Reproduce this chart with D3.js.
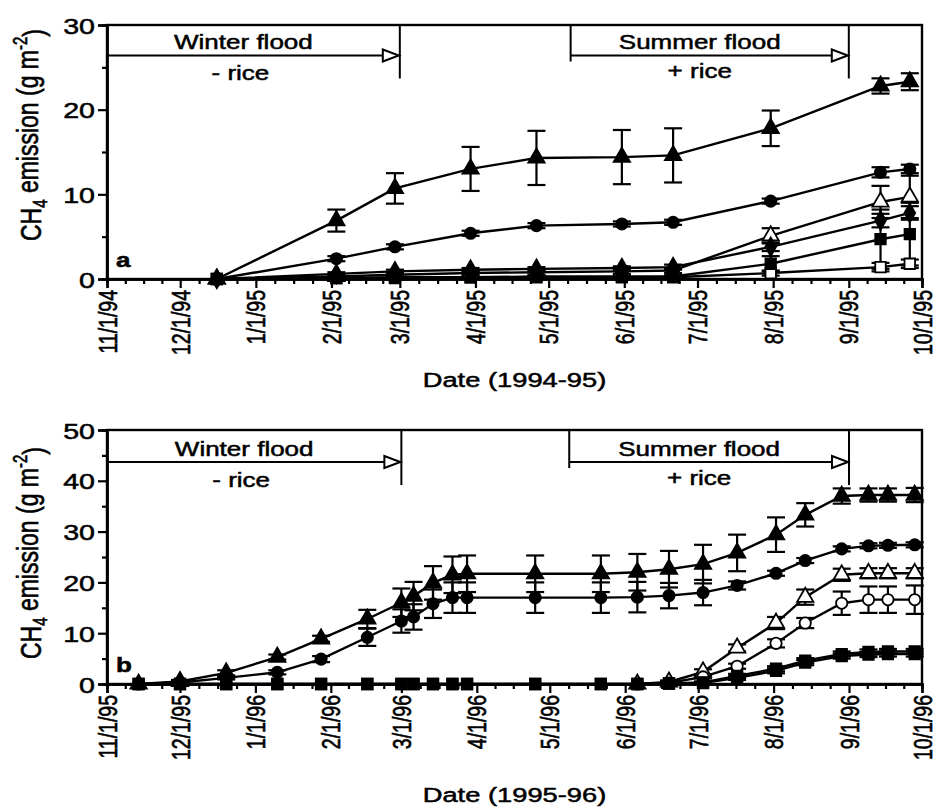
<!DOCTYPE html>
<html>
<head>
<meta charset="utf-8">
<script src="https://cdn.jsdelivr.net/npm/d3@7"></script>
<style>
  body { margin: 0; background: #fff; }
  svg { display: block; }
  text { font-family: "Liberation Sans", Arial, sans-serif; fill: #000; stroke: #000; stroke-width: 0.5px; }
</style>
</head>
<body>
<div id="wrapper"></div>
<script>
//* Data, panel a (1994-95)
const monthTicksA = ["11/1/94", "12/1/94", "1/1/95", "2/1/95", "3/1/95", "4/1/95",
  "5/1/95", "6/1/95", "7/1/95", "8/1/95", "9/1/95", "10/1/95"];
const datesA = ["12/16/94", "2/3/95", "2/27/95", "3/30/95", "4/26/95", "5/31/95",
  "6/21/95", "7/31/95", "9/14/95", "9/26/95"];
const triFilledA = [0, 6.9, 10.7, 13.0, 14.3, 14.4, 14.6, 17.8, 22.8, 23.3];
const triFilledErrA = [0, 1.3, 1.8, 2.6, 3.2, 3.2, 3.2, 2.1, 0.9, 1.0];
const circFilledA = [0, 2.4, 3.8, 5.4, 6.3, 6.5, 6.7, 9.2, 12.6, 13.0];
const circFilledErrA = [0, 0.3, 0.3, 0.3, 0.3, 0.3, 0.3, 0.3, 0.6, 0.5];
const triOpenA = [0, 0.3, 0.5, 0.7, 0.8, 0.9, 1.0, 5.1, 9.1, 9.7];
const triOpenErrA = [0, 0.2, 0.2, 0.2, 0.3, 0.3, 0.3, 0.9, 1.9, 2.5];
const diamFilledA = [0, 0.6, 0.9, 1.1, 1.2, 1.3, 1.4, 3.8, 6.9, 7.8];
const diamFilledErrA = [0, 0.2, 0.2, 0.2, 0.2, 0.2, 0.3, 0.5, 0.8, 0.8];
const sqFilledA = [0, 0.1, 0.2, 0.2, 0.3, 0.3, 0.3, 1.8, 4.7, 5.3];
const sqFilledErrA = [0, 0.1, 0.1, 0.1, 0.1, 0.1, 0.1, 0.9, 3.5, 3.7];
const sqOpenA = [0, 0.1, 0.1, 0.2, 0.2, 0.2, 0.2, 0.7, 1.4, 1.8];
const sqOpenErrA = [0, 0.1, 0.1, 0.1, 0.1, 0.1, 0.1, 0.3, 0.5, 0.5];

//* Data, panel b (1995-96); null = no point shown on that date
const monthTicksB = ["11/1/95", "12/1/95", "1/1/96", "2/1/96", "3/1/96", "4/1/96",
  "5/1/96", "6/1/96", "7/1/96", "8/1/96", "9/1/96", "10/1/96"];
const datesB = ["11/14/95", "12/1/95", "12/20/95", "1/10/96", "1/28/96", "2/16/96",
  "3/1/96", "3/6/96", "3/14/96", "3/22/96", "3/28/96", "4/25/96", "5/22/96",
  "6/6/96", "6/19/96", "7/3/96", "7/17/96", "8/2/96", "8/14/96", "8/29/96",
  "9/9/96", "9/17/96", "9/28/96"];
const triFilledB = [0, 0.5, 2.2, 5.3, 8.9, 12.8, 16.0, 17.3, 19.9, 21.5, 21.7, 21.7,
  21.7, 22.0, 22.6, 23.6, 25.8, 29.4, 33.3, 37.0, 37.2, 37.2, 37.2];
const triFilledErrB = [0, 0.3, 0.5, 0.5, 0.6, 1.8, 2.8, 2.8, 3.3, 3.6, 3.6, 3.6, 3.6,
  3.6, 3.6, 3.8, 3.6, 3.4, 2.3, 1.5, 1.3, 1.3, 1.4];
const circFilledB = [0, 0.3, 1.2, 2.3, 4.9, 9.2, 12.4, 13.2, 15.8, 17.0, 17.0, 17.0,
  17.0, 17.1, 17.4, 18.0, 19.4, 21.8, 24.3, 26.6, 27.2, 27.3, 27.4];
const circFilledErrB = [0, 0.2, 0.3, 0.4, 0.6, 1.7, 2.3, 2.5, 2.8, 3.0, 3.0, 3.0, 3.0,
  3.0, 2.5, 2.5, 0.8, 0.5, 0.5, 0.5, 0.5, 0.5, 0.5];
const triOpenB = [null, null, null, null, null, null, null, null, null, null, null, null,
  null, 0, 0.4, 2.4, 7.1, 12.0, 17.1, 21.5, 21.8, 21.8, 21.8];
const triOpenErrB = [0, 0, 0, 0, 0, 0, 0, 0, 0, 0, 0, 0, 0, 0, 0.3, 0.5, 0.7, 1.2, 1.5,
  1.2, 1.0, 1.0, 1.0];
const circOpenB = [null, null, null, null, null, null, null, null, null, null, null, null,
  null, 0, 0.2, 1.4, 3.5, 8.0, 12.0, 15.9, 16.6, 16.6, 16.6];
const circOpenErrB = [0, 0, 0, 0, 0, 0, 0, 0, 0, 0, 0, 0, 0, 0, 0.2, 0.3, 0.5, 0.8, 1.0,
  2.3, 2.6, 2.6, 2.8];
const sqFilledB = [0, 0, 0, 0, 0, 0, 0, 0, 0, 0, 0, 0, 0, 0, 0.1, 0.3, 1.6, 3.0, 4.6,
  5.9, 6.3, 6.4, 6.4];
const sqFilledErrB = [0, 0, 0, 0, 0, 0, 0, 0, 0, 0, 0, 0, 0, 0, 0.1, 0.2, 0.4, 0.5, 0.5,
  0.5, 0.5, 0.5, 0.5];
const sqOpenB = [0, 0, 0, 0, 0, 0, 0, 0, 0, 0, 0, 0, 0, 0, 0.1, 0.2, 1.2, 2.6, 4.2,
  5.5, 5.8, 5.9, 5.9];
const sqOpenErrB = [0, 0, 0, 0, 0, 0, 0, 0, 0, 0, 0, 0, 0, 0, 0.1, 0.2, 0.4, 0.5, 0.5,
  0.5, 0.5, 0.5, 0.5];

const parseDate = d3.timeParse("%m/%d/%y");
const stretch = 1.3; // the source figure is stretched horizontally

//* Canvas
const wrapper = d3.select("#wrapper")
  .append("svg")
  .attr("width", 937)
  .attr("height", 809);

function drawPanel(cfg) {
  const { top, bottom, left, right } = cfg.box;

  const xScale = d3.scaleTime()
    .domain([parseDate(cfg.months[0]), parseDate(cfg.months[cfg.months.length - 1])])
    .range([left, right]);
  const yScale = d3.scaleLinear()
    .domain([0, cfg.yMax])
    .range([bottom, top]);

  const bounds = wrapper.append("g");

  // frame
  bounds.append("rect")
    .attr("x", left).attr("y", top)
    .attr("width", right - left).attr("height", bottom - top)
    .attr("fill", "none").attr("stroke", "#000").attr("stroke-width", 2.4);

  // flood annotations
  const arrowY = yScale(cfg.arrowValue);
  const ann = bounds.append("g").attr("stroke", "#000").attr("stroke-width", 2).attr("fill", "none");
  const drawArrow = (x0, x1, leftTick) => {
    const xa = xScale(parseDate(x0));
    const xb = xScale(parseDate(x1));
    if (leftTick) ann.append("line").attr("x1", xa).attr("x2", xa).attr("y1", top).attr("y2", arrowY + 6);
    ann.append("line").attr("x1", xa).attr("x2", xb - 16).attr("y1", arrowY).attr("y2", arrowY);
    ann.append("path")
      .attr("d", `M${xb - 17},${arrowY - 6}L${xb - 1},${arrowY}L${xb - 17},${arrowY + 6}Z`)
      .attr("fill", "#fff");
    ann.append("line").attr("x1", xb).attr("x2", xb).attr("y1", top).attr("y2", arrowY + 23);
    return (xa + xb) / 2 - 10;
  };
  const winterMid = drawArrow(cfg.winter[0], cfg.winter[1], false);
  const summerMid = drawArrow(cfg.summer[0], cfg.summer[1], true);
  const label = (x, y, str) => bounds.append("text")
    .attr("transform", `translate(${x},${y}) scale(${stretch},1)`)
    .attr("text-anchor", "middle")
    .style("font-size", "20px")
    .text(str);
  label(winterMid, arrowY - 6, "Winter flood");
  label(winterMid - 3, arrowY + 25, "- rice");
  label(summerMid, arrowY - 6, "Summer flood");
  label(summerMid, arrowY + 23, "+ rice");

  // series
  const dates = cfg.dates.map(parseDate);
  const lineGen = d3.line()
    .defined((d) => d != null)
    .x((d, i) => xScale(dates[i]))
    .y((d) => yScale(d));
  const symbols = {
    triangle: d3.symbol(d3.symbolTriangle, 115),
    circle: d3.symbol(d3.symbolCircle, 100),
    square: d3.symbol(d3.symbolSquare, 110),
    diamond: d3.symbol(d3.symbolDiamond, 100),
  };

  // lines and error bars under every marker
  cfg.series.forEach((s) => {
    const sg = bounds.append("g");
    sg.append("path")
      .attr("d", lineGen(s.values))
      .attr("fill", "none").attr("stroke", "#000").attr("stroke-width", 2.4);

    const bars = sg.append("g").attr("stroke", "#000").attr("stroke-width", 2.2);
    s.values.forEach((v, i) => {
      const e = s.errors[i];
      if (v == null || e <= 0) return;
      const cx = xScale(dates[i]);
      const y0 = yScale(v - e);
      const y1 = yScale(v + e);
      bars.append("line").attr("x1", cx).attr("x2", cx).attr("y1", y0).attr("y2", y1);
      bars.append("line").attr("x1", cx - 9).attr("x2", cx + 9).attr("y1", y0).attr("y2", y0);
      bars.append("line").attr("x1", cx - 9).attr("x2", cx + 9).attr("y1", y1).attr("y2", y1);
    });
  });
  cfg.series.forEach((s) => {
    const points = s.values
      .map((v, i) => ({ v, date: dates[i] }))
      .filter((p) => p.v != null);
    bounds.append("g")
      .selectAll("path")
      .data(points)
      .join("path")
      .attr("transform", (d) => `translate(${xScale(d.date)},${yScale(d.v)})`)
      .attr("d", symbols[s.symbol])
      .attr("fill", s.filled ? "#000" : "#fff")
      .attr("stroke", "#000")
      .attr("stroke-width", 1.8);
  });

  // y axis
  const yAxis = bounds.append("g")
    .attr("transform", `translate(${left},0)`)
    .call(d3.axisLeft(yScale).tickValues(d3.range(0, cfg.yMax + 1, 10)).tickSize(9));
  bounds.append("g")
    .attr("transform", `translate(${left},0)`)
    .call(d3.axisLeft(yScale).tickValues(d3.range(5, cfg.yMax, 10)).tickSize(5).tickFormat(""));

  yAxis.selectAll("text")
    .attr("x", null).attr("dy", null)
    .attr("transform", `translate(-12,8) scale(${stretch},1)`)
    .style("font-size", "22px")
    .attr("text-anchor", "end");

  // x axis
  const monthDates = cfg.months.map(parseDate);
  const minorDates = [];
  for (let i = 0; i < monthDates.length - 1; i++) {
    const a = +monthDates[i];
    const b = +monthDates[i + 1];
    for (let k = 1; k < 4; k++) minorDates.push(new Date(a + ((b - a) * k) / 4));
  }
  const xAxis = bounds.append("g")
    .attr("transform", `translate(0,${bottom})`)
    .call(d3.axisBottom(xScale).tickValues(monthDates).tickSize(9)
      .tickFormat((d, i) => cfg.months[i]));
  bounds.append("g")
    .attr("transform", `translate(0,${bottom})`)
    .call(d3.axisBottom(xScale).tickValues(minorDates).tickSize(5).tickFormat(""));

  xAxis.selectAll("text")
    .attr("y", null).attr("dy", "0.36em")
    .attr("transform", `translate(0,11) scale(${stretch},1) rotate(-90)`)
    .attr("text-anchor", "end")
    .style("font-size", "19.5px");

  bounds.selectAll(".domain").attr("stroke-width", 2.4);
  bounds.selectAll(".tick line").attr("stroke-width", 2.2);
  bounds.selectAll(".tick text")
    .style("font-family", "'Liberation Sans', Arial, sans-serif")
    .attr("stroke", "#000").attr("stroke-width", 0.5);

  // axis titles
  bounds.append("text")
    .attr("transform", `translate(${(left + right) / 2},${cfg.xTitleY}) scale(${stretch},1)`)
    .attr("text-anchor", "middle")
    .style("font-size", "21px")
    .text(cfg.xTitle);

  const yTitle = bounds.append("text")
    .attr("transform", `translate(41,${cfg.yTitleY}) scale(${stretch},1) rotate(-90)`)
    .attr("text-anchor", "middle")
    .style("font-size", "23px");
  yTitle.append("tspan").text("CH");
  yTitle.append("tspan").text("4").style("font-size", "15px").attr("dy", "0.3em");
  yTitle.append("tspan").text(" emission (g m").attr("dy", "-0.3em");
  yTitle.append("tspan").text("-2").style("font-size", "15px").attr("dy", "-0.55em");
  yTitle.append("tspan").text(")").attr("dy", "0.55em");

  // panel letter
  bounds.append("text")
    .attr("transform", `translate(${left + 9},${bottom - 12}) scale(${stretch},1)`)
    .style("font-size", "20px")
    .style("font-weight", "bold")
    .text(cfg.letter);
}

drawPanel({
  box: { top: 25, bottom: 279, left: 107, right: 922 },
  yMax: 30,
  months: monthTicksA,
  dates: datesA,
  arrowValue: 26.4,
  winter: ["11/1/94", "3/1/95"],
  summer: ["5/10/95", "9/1/95"],
  series: [
    { symbol: "triangle", filled: false, values: triOpenA, errors: triOpenErrA },
    { symbol: "square", filled: false, values: sqOpenA, errors: sqOpenErrA },
    { symbol: "circle", filled: true, values: circFilledA, errors: circFilledErrA },
    { symbol: "triangle", filled: true, values: triFilledA, errors: triFilledErrA },
    { symbol: "diamond", filled: true, values: diamFilledA, errors: diamFilledErrA },
    { symbol: "square", filled: true, values: sqFilledA, errors: sqFilledErrA },
  ],
  xTitle: "Date (1994-95)",
  xTitleY: 387,
  yTitleY: 135,
  letter: "a",
});

drawPanel({
  box: { top: 430, bottom: 684, left: 107, right: 922 },
  yMax: 50,
  months: monthTicksB,
  dates: datesB,
  arrowValue: 43.7,
  winter: ["11/1/95", "3/1/96"],
  summer: ["5/9/96", "9/1/96"],
  series: [
    { symbol: "triangle", filled: false, values: triOpenB, errors: triOpenErrB },
    { symbol: "circle", filled: false, values: circOpenB, errors: circOpenErrB },
    { symbol: "circle", filled: true, values: circFilledB, errors: circFilledErrB },
    { symbol: "triangle", filled: true, values: triFilledB, errors: triFilledErrB },
    { symbol: "square", filled: true, values: sqOpenB, errors: sqOpenErrB },
    { symbol: "square", filled: true, values: sqFilledB, errors: sqFilledErrB },
  ],
  xTitle: "Date (1995-96)",
  xTitleY: 802,
  yTitleY: 553,
  letter: "b",
});
</script>
</body>
</html>
